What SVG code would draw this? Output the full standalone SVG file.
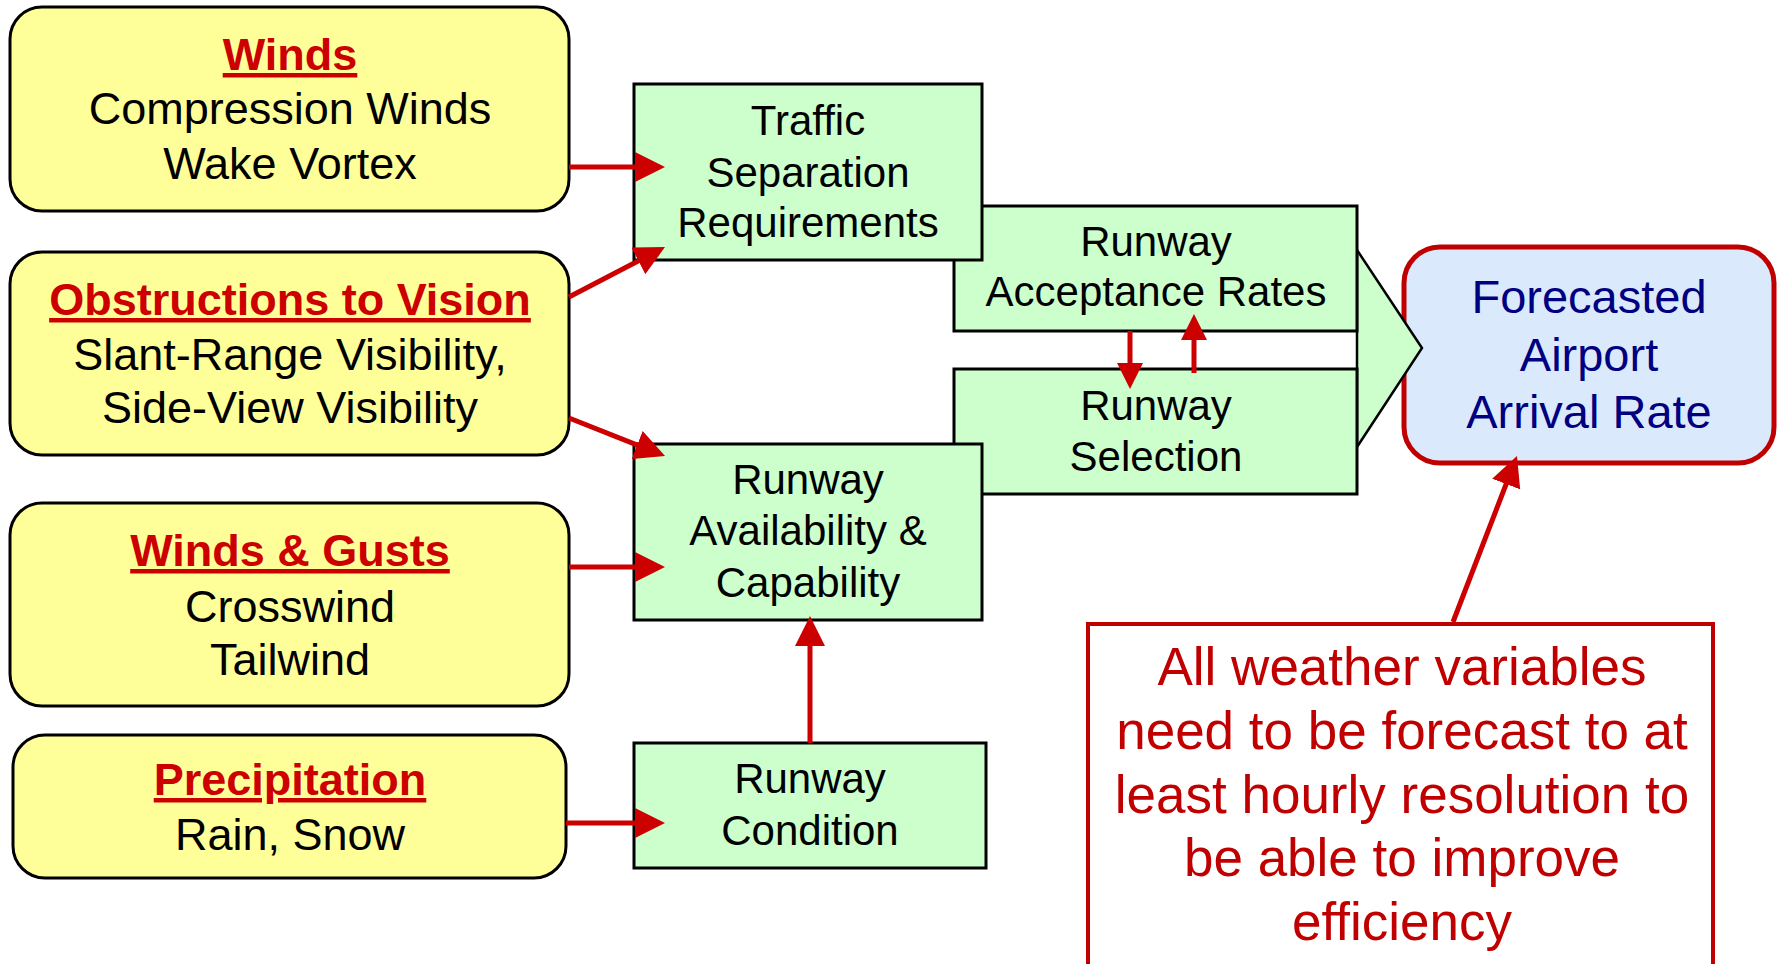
<svg xmlns="http://www.w3.org/2000/svg" width="1781" height="964" viewBox="0 0 1781 964">
<style>
.ybox{fill:#FFFF99;stroke:#000;stroke-width:3}
.gbox{fill:#CCFFCC;stroke:#000;stroke-width:3}
.t{font-family:"Liberation Sans",Arial,sans-serif;text-anchor:middle}
.yt{font-size:45px;fill:#000}
.head{font-size:45px;font-weight:bold;fill:#CC0000;text-decoration:underline}
.gt{font-size:42px;fill:#000}
.bt{font-size:47px;fill:#000080}
.nt{font-size:53px;fill:#C00000}
.conn{stroke:#CC0000;stroke-width:5;fill:none}
.big{marker-end:url(#ah)}
.small{marker-end:url(#ahs)}
</style>
<defs>
<marker id="ah" markerUnits="userSpaceOnUse" markerWidth="30" markerHeight="30" viewBox="0 0 30 30" refX="22" refY="15" orient="auto"><path d="M0,0 L30,15 L0,30 z" fill="#CC0000"/></marker>
<marker id="ahs" markerUnits="userSpaceOnUse" markerWidth="26" markerHeight="26" viewBox="0 0 26 26" refX="19" refY="13" orient="auto"><path d="M0,0 L26,13 L0,26 z" fill="#CC0000"/></marker>
</defs>
<rect width="1781" height="964" fill="#fff"/>

<g id="forecast"><rect x="1404" y="247" width="370" height="216" rx="36" fill="#DAEAFC" stroke="#C00000" stroke-width="5"/>
<text class="t bt" x="1589" y="313">Forecasted</text><text class="t bt" x="1589" y="371">Airport</text><text class="t bt" x="1589" y="428">Arrival Rate</text></g>

<g id="chevron"><polygon points="1357,250 1422,348 1357,447" fill="#CCFFCC" stroke="#000" stroke-width="2.5"/></g>

<g id="acceptance"><rect class="gbox" x="954" y="206" width="403" height="125"/>
<text class="t gt" x="1156" y="256">Runway</text><text class="t gt" x="1156" y="306">Acceptance Rates</text></g>
<g id="selection"><rect class="gbox" x="954" y="369" width="403" height="125"/>
<text class="t gt" x="1156" y="420">Runway</text><text class="t gt" x="1156" y="471">Selection</text></g>

<g id="traffic"><rect class="gbox" x="634" y="84" width="348" height="176"/>
<text class="t gt" x="808" y="135">Traffic</text><text class="t gt" x="808" y="187">Separation</text><text class="t gt" x="808" y="237">Requirements</text></g>
<g id="availability"><rect class="gbox" x="634" y="444" width="348" height="176"/>
<text class="t gt" x="808" y="494">Runway</text><text class="t gt" x="808" y="545">Availability &amp;</text><text class="t gt" x="808" y="597">Capability</text></g>
<g id="condition"><rect class="gbox" x="634" y="743" width="352" height="125"/>
<text class="t gt" x="810" y="793">Runway</text><text class="t gt" x="810" y="845">Condition</text></g>

<g id="winds"><rect class="ybox" x="10" y="7" width="559" height="204" rx="32"/>
<text class="t head" x="290" y="70">Winds</text><text class="t yt" x="290" y="124">Compression Winds</text><text class="t yt" x="290" y="179">Wake Vortex</text></g>
<g id="obstructions"><rect class="ybox" x="10" y="252" width="559" height="203" rx="32"/>
<text class="t head" x="290" y="315">Obstructions to Vision</text><text class="t yt" x="290" y="370">Slant-Range Visibility,</text><text class="t yt" x="290" y="423">Side-View Visibility</text></g>
<g id="gusts"><rect class="ybox" x="10" y="503" width="559" height="203" rx="32"/>
<text class="t head" x="290" y="566">Winds &amp; Gusts</text><text class="t yt" x="290" y="622">Crosswind</text><text class="t yt" x="290" y="675">Tailwind</text></g>
<g id="precipitation"><rect class="ybox" x="13" y="735" width="553" height="143" rx="32"/>
<text class="t head" x="290" y="795">Precipitation</text><text class="t yt" x="290" y="850">Rain, Snow</text></g>

<g id="note"><rect x="1088" y="624" width="625" height="400" fill="#fff" stroke="#C00000" stroke-width="4"/>
<text class="t nt" x="1402" y="685">All weather variables</text>
<text class="t nt" x="1402" y="749">need to be forecast to at</text>
<text class="t nt" x="1402" y="813">least hourly resolution to</text>
<text class="t nt" x="1402" y="876">be able to improve</text>
<text class="t nt" x="1402" y="940">efficiency</text></g>

<g id="connectors">
<line class="conn big" x1="569" y1="167" x2="657" y2="167"/>
<line class="conn big" x1="569" y1="297" x2="657.9" y2="250.7"/>
<line class="conn big" x1="569" y1="418" x2="657.6" y2="453.1"/>
<line class="conn big" x1="569" y1="567" x2="657" y2="567"/>
<line class="conn big" x1="566" y1="823" x2="657" y2="823"/>
<line class="conn big" x1="810" y1="743" x2="810" y2="624"/>
<line class="conn small" x1="1130" y1="331" x2="1130" y2="382"/>
<line class="conn small" x1="1194" y1="373" x2="1194" y2="321"/>
<line class="conn big" x1="1453" y1="622" x2="1514.1" y2="463.5"/>
</g>
</svg>
